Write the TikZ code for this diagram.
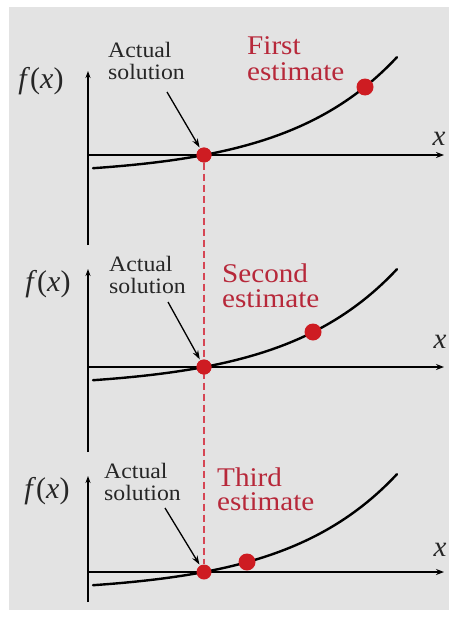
\documentclass[tikz,border=0pt]{standalone}
\usepackage{fontspec}
\setmainfont{Liberation Serif}
\usetikzlibrary{arrows.meta}
\definecolor{bggray}{RGB}{227,227,227}
\definecolor{esttext}{RGB}{183,40,58}
\definecolor{dotred}{RGB}{206,28,34}
\definecolor{dashred}{RGB}{214,70,84}
\newcommand{\blacklab}[2]{\scalebox{1.08}[1]{\fontsize{22}{#2}\selectfont\begin{tabular}[t]{@{}l@{}}#1\end{tabular}}}
\newcommand{\redlab}[2]{\scalebox{1.08}[1]{\fontsize{27}{#2}\selectfont\begin{tabular}[t]{@{}l@{}}#1\end{tabular}}}
\tikzset{
  axisline/.style={line width=1.6pt, -{Stealth[length=8pt,width=6pt]}},
  yaxisline/.style={line width=1.6pt, -{Stealth[length=7pt,width=5pt]}},
  curveline/.style={line width=2.4pt, line cap=round},
  rootdot/.style={circle, fill=dotred, inner sep=0pt, minimum size=15pt},
  estdot/.style={circle, fill=dotred, inner sep=0pt, minimum size=17pt},
  pointer/.style={line width=1.3pt, -{Stealth[length=9pt,width=6pt]}, shorten >=1pt},
  blacktext/.style={inner sep=0pt, anchor=base west, text=black!85},
  redtext/.style={inner sep=0pt, anchor=base west, text=esttext},
  fxlab/.style={inner sep=0pt, font=\fontsize{30}{32}\selectfont, text=black!85},
  xlab/.style={inner sep=0pt, font=\fontsize{29}{30}\selectfont\itshape, text=black!85},
  dashline/.style={dashred, line width=1.6pt, dash pattern=on 7pt off 4pt}
}
\begin{document}
\begin{tikzpicture}[x=1pt,y=-1pt]
\useasboundingbox (0,0) rectangle (449,618);
\fill[bggray] (9,7) rectangle (449,610);

% ---------- panel 1 ----------
\coordinate (y1b) at (88,245); \coordinate (y1t) at (88,71);
\coordinate (x1l) at (88,155); \coordinate (x1r) at (444,155);
\draw[yaxisline] (y1b) -- (y1t);
\draw[axisline] (x1l) -- (x1r);
\draw[curveline] plot[domain=93:397,samples=60] ({\x},{155-20.9*(exp(0.009*(\x-204))-1)});
\node[fxlab] (f1) at (41,81) {\textit{f}(\textit{x})};
\node[xlab] (xl1) at (439,139) {x};
\node[blacktext] (a1) at (108,57) {\blacklab{Actual\\solution}{22}};
\node[redtext] (e1) at (247,55) {\redlab{First\\estimate}{24}};

% ---------- panel 2 ----------
\coordinate (y2b) at (88,452); \coordinate (y2t) at (88,269);
\coordinate (x2l) at (88,367); \coordinate (x2r) at (444,367);
\draw[yaxisline] (y2b) -- (y2t);
\draw[axisline] (x2l) -- (x2r);
\draw[curveline] plot[domain=93:397,samples=60] ({\x},{367-20.9*(exp(0.009*(\x-204))-1)});
\node[fxlab] (f2) at (48,284) {\textit{f}(\textit{x})};
\node[xlab] (xl2) at (440,342) {x};
\node[blacktext] (a2) at (109,271) {\blacklab{Actual\\solution}{22}};
\node[redtext] (e2) at (222,282) {\redlab{Second\\estimate}{25}};

% ---------- panel 3 ----------
\coordinate (y3b) at (88,602); \coordinate (y3t) at (88,476);
\coordinate (x3l) at (88,572); \coordinate (x3r) at (444,572);
\draw[yaxisline] (y3b) -- (y3t);
\draw[axisline] (x3l) -- (x3r);
\draw[curveline] plot[domain=93:397,samples=60] ({\x},{572-20.9*(exp(0.009*(\x-204))-1)});
\node[fxlab] (f3) at (47,491) {\textit{f}(\textit{x})};
\node[xlab] (xl3) at (440,550) {x};
\node[blacktext] (a3) at (104,478) {\blacklab{Actual\\solution}{22}};
\node[redtext] (e3) at (217,486) {\redlab{Third\\estimate}{22}};

% ---------- dashed line and dots ----------
\node[rootdot] (r1) at (204,155) {};
\node[rootdot] (r2) at (204,367) {};
\node[rootdot] (r3) at (204,572) {};
\draw[dashline] (r1.south) -- (r3.north);
\node[rootdot] at (204,155) {};
\node[rootdot] at (204,367) {};
\node[estdot] (d1) at (365,87) {};
\node[estdot] (d2) at (313,332) {};
\node[estdot] (d3) at (247,562) {};

% ---------- pointers ----------
\coordinate (s1) at (167,92);
\coordinate (s2) at (168,302);
\coordinate (s3) at (165,508);
\draw[pointer] (s1) -- (r1);
\draw[pointer] (s2) -- (r2);
\draw[pointer] (s3) -- (r3);
\end{tikzpicture}
\end{document}
